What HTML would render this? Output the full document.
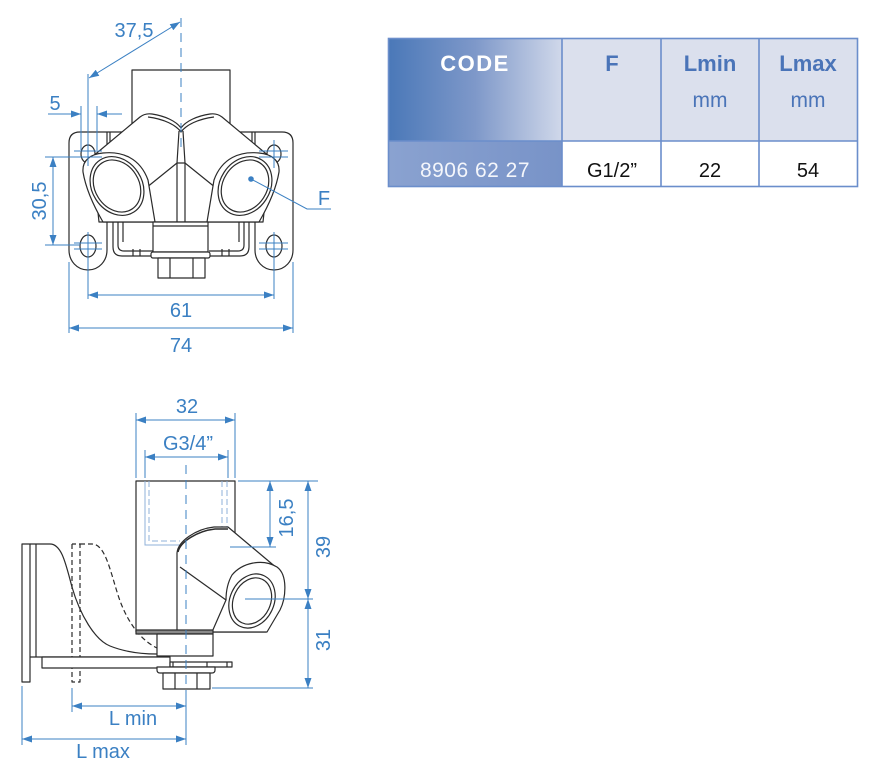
<!DOCTYPE html>
<html><head><meta charset="utf-8"><style>
html,body{margin:0;padding:0;background:#fff;}
svg{display:block;}
</style></head><body>
<svg width="886" height="778" viewBox="0 0 886 778" xmlns="http://www.w3.org/2000/svg">
<defs>
<marker id="ar" viewBox="0 0 10 7" refX="10" refY="3.5" markerWidth="10" markerHeight="7" markerUnits="userSpaceOnUse" orient="auto-start-reverse"><path d="M0,0 L10,3.5 L0,7 Z" fill="#3b80c3"/></marker>
<linearGradient id="gc" x1="0" x2="1" y1="0" y2="0"><stop offset="0" stop-color="#4a78b8"/><stop offset="0.5" stop-color="#7e98c9"/><stop offset="1" stop-color="#d0d8ea"/></linearGradient>
<linearGradient id="gb" x1="0" x2="1" y1="0" y2="0"><stop offset="0" stop-color="#8aa2d0"/><stop offset="1" stop-color="#7893c8"/></linearGradient>
</defs>

<!-- ================= TABLE ================= -->
<rect x="388" y="38" width="174" height="103" fill="url(#gc)"/>
<rect x="562" y="38" width="296" height="103" fill="#dbe0ed"/>
<rect x="388" y="141" width="174" height="46" fill="url(#gb)"/>
<rect x="562" y="141" width="296" height="46" fill="#fff"/>
<g stroke="#6b8ecb" stroke-width="1.6" fill="none">
<rect x="388.5" y="38.5" width="469" height="148"/>
<line x1="388" y1="141" x2="858" y2="141"/>
<line x1="562" y1="38" x2="562" y2="187"/>
<line x1="661" y1="38" x2="661" y2="187"/>
<line x1="759" y1="38" x2="759" y2="187"/>
</g>
<g font-family="Liberation Sans, sans-serif" text-anchor="middle">
<text x="475" y="71" font-size="22" font-weight="bold" fill="#fff" letter-spacing="1.5">CODE</text>
<text x="612" y="71" font-size="22" font-weight="bold" fill="#4a74b8">F</text>
<text x="710" y="71" font-size="22" font-weight="bold" fill="#4a74b8">Lmin</text>
<text x="808" y="71" font-size="22" font-weight="bold" fill="#4a74b8">Lmax</text>
<text x="710" y="107" font-size="21" fill="#4a74b8">mm</text>
<text x="808" y="107" font-size="21" fill="#4a74b8">mm</text>
<text x="475" y="177" font-size="21" fill="#f4f6fb" letter-spacing="0.5">8906 62 27</text>
<text x="612" y="177" font-size="20" fill="#111">G1/2”</text>
<text x="710" y="177" font-size="20" fill="#111">22</text>
<text x="808" y="177" font-size="20" fill="#111">54</text>
</g>

<!-- ================= TOP VIEW ================= -->
<g stroke="#2b2b2b" stroke-width="1.2" fill="none" stroke-linejoin="round">
<!-- pipe -->
<path d="M132,126 V70 H230 V126"/>
<g id="halfL">
 <path d="M125,132 H80 Q69,132 69,143 V250 C69,261 77,270 88,270 C99,270 107,261 107,250 V222"/>
 <path d="M107,132 V152 M110,132 V152"/>
 <ellipse cx="88" cy="154" rx="7" ry="9"/>
 <ellipse cx="88" cy="246" rx="8" ry="11"/>
 <path d="M113,222 V247 Q113,256 122,256 H153 M118,222 V245 Q118,251 124,251 H153 M123,222 V242"/>
 <path d="M133,249 V256 M140,249 V256"/>
</g>
<g transform="translate(362,0) scale(-1,1)">
 <path d="M125,132 H80 Q69,132 69,143 V250 C69,261 77,270 88,270 C99,270 107,261 107,250 V222"/>
 <path d="M107,132 V152 M110,132 V152"/>
 <ellipse cx="88" cy="154" rx="7" ry="9"/>
 <ellipse cx="88" cy="246" rx="8" ry="11"/>
 <path d="M113,222 V247 Q113,256 122,256 H153 M118,222 V245 Q118,251 124,251 H153 M123,222 V242"/>
 <path d="M133,249 V256 M140,249 V256"/>
</g>
<!-- body -->
<path d="M92,157 L140,117 Q145,113 152,114 C165,116 176,121 181,128 C186,121 197,116 210,114 Q217,113 222,117 L270,157 L263,222 L99,222 Z" fill="#fff"/>
<path d="M148,117 C164,119 176,125 181,132 C186,125 198,119 214,117"/>
<path d="M179,131 L177,163 V222 M183,131 L185,163 V222 M177,163 H185"/>
<path d="M146,188 L177,163 M185,163 L216,188"/>
<!-- faces -->
<g>
 <path d="M103,153 C122,151 140,158 148,180 L155,222 L103,222 C96,210 86,190 83,172 C82,160 91,154 103,153 Z" fill="#fff"/>
 <ellipse cx="117" cy="186" rx="25" ry="31" transform="rotate(-33 117 186)"/>
 <ellipse cx="117" cy="186" rx="22" ry="27.5" transform="rotate(-33 117 186)"/>
</g>
<g transform="translate(362,0) scale(-1,1)">
 <path d="M103,153 C122,151 140,158 148,180 L155,222 L103,222 C96,210 86,190 83,172 C82,160 91,154 103,153 Z" fill="#fff"/>
 <ellipse cx="117" cy="186" rx="25" ry="31" transform="rotate(-33 117 186)"/>
 <ellipse cx="117" cy="186" rx="22" ry="27.5" transform="rotate(-33 117 186)"/>
</g>
<!-- nut -->
<rect x="153" y="222" width="55" height="30" fill="#fff"/>
<path d="M153,226 H208"/>
<rect x="151" y="252" width="59" height="6" rx="2" fill="#fff"/>
<rect x="158" y="258" width="47" height="20" fill="#fff"/>
<path d="M170,258 V278 M193,258 V278"/>
</g>

<!-- top view dims -->
<g stroke="#3b80c3" stroke-width="1" fill="none">
<path d="M181,18 V150" stroke-dasharray="9,6"/>
<line x1="89" y1="78" x2="180" y2="22" marker-start="url(#ar)" marker-end="url(#ar)"/>
<path d="M88,74 V166"/>
<path d="M81,106 V150 M97,106 V150"/>
<line x1="48" y1="114" x2="81" y2="114" marker-end="url(#ar)"/>
<line x1="122" y1="114" x2="97" y2="114" marker-end="url(#ar)"/>
<!-- hole crosshairs -->
<path d="M74,151 H102 M74,157 H102 M74,243 H102 M74,249 H102 M88,232 V299"/>
<path d="M259,151 H288 M259,157 H288 M259,243 H288 M259,249 H288 M274,140 V168 M274,232 V299"/>
<!-- 30,5 -->
<path d="M45,157 H80 M45,245 H80"/>
<line x1="53" y1="157" x2="53" y2="245" marker-start="url(#ar)" marker-end="url(#ar)"/>
<!-- 61, 74 -->
<line x1="88" y1="295" x2="274" y2="295" marker-start="url(#ar)" marker-end="url(#ar)"/>
<path d="M69,262 V333 M293,262 V333"/>
<line x1="69" y1="328" x2="293" y2="328" marker-start="url(#ar)" marker-end="url(#ar)"/>
<!-- F leader -->
<path d="M251,179 L307,209 H331"/>
</g>
<circle cx="251" cy="179" r="2.8" fill="#3b80c3"/>
<g font-family="Liberation Sans, sans-serif" font-size="20" fill="#3b80c3" text-anchor="middle">
<text x="134" y="37">37,5</text>
<text x="55" y="110">5</text>
<text transform="translate(46,201) rotate(-90)">30,5</text>
<text x="181" y="317">61</text>
<text x="181" y="352">74</text>
<text x="324" y="205">F</text>
</g>

<!-- ================= SIDE VIEW ================= -->
<g stroke="#2b2b2b" stroke-width="1.2" fill="none" stroke-linejoin="round">
<!-- bracket solid -->
<rect x="22" y="544" width="8" height="138" fill="#fff"/>
<path d="M30,544 H50 C62,544 66,565 72,587 C80,615 95,640 110,646 C125,652 140,654 157,654"/>
<path d="M36,544 V657"/>
<!-- bracket dashed -->
<g stroke-dasharray="5,3">
<path d="M72,544 V682 H80 V544 H72"/>
<path d="M80,544 H92 C105,544 110,570 118,595 C126,620 140,640 157,648"/>
</g>
<!-- base plate -->
<path d="M30,657 H170"/>
<rect x="42" y="657" width="128" height="11" fill="#fff"/>
<!-- pipe -->
<path d="M136,632 V481 H235 V540"/>
</g>
<!-- thread hidden lines -->
<g stroke="#8fb0da" stroke-width="1" fill="none">
<path d="M145,481 V545 H180"/>
<path d="M149,481 V541 H180" stroke-dasharray="6,3"/>
<path d="M222,481 V530 M227,481 V528" stroke-dasharray="6,3"/>
</g>
<g stroke="#2b2b2b" stroke-width="1.2" fill="none" stroke-linejoin="round">
<!-- elbow -->
<path d="M177,632 V553 C178,541 196,529 214,527 H228 L278,569 L266,632 Z" fill="#fff"/>
<path d="M178,552 C180,542 197,531 215,529 H228" stroke-width="1.6"/>
<path d="M180,567 L226,600"/>
<path d="M212,632 L226,600 C226,590 228,582 232,575 C242,563 262,558 277,567 C288,575 286,598 280,610 L267,632 Z" fill="#fff"/>
<ellipse cx="252" cy="601" rx="22" ry="28" transform="rotate(25 252 601)"/>
<ellipse cx="252" cy="601" rx="18.5" ry="24" transform="rotate(25 252 601)"/>
<!-- connector & nut -->
<rect x="136" y="630" width="77" height="4" fill="#8a8a8a"/>
<rect x="157" y="634" width="56" height="22" fill="#fff"/>
<rect x="170" y="662" width="62" height="5" fill="#fff"/>
<path d="M173,662 V667 M207,662 V667 M227,662 V667"/>
<path d="M157,667 H215 V670 Q215,673 212,673 H160 Q157,673 157,670 Z" fill="#fff"/>
<rect x="163" y="673" width="47" height="16" fill="#fff"/>
<path d="M175,673 V689 M197,673 V689"/>
</g>

<!-- side view dims -->
<g stroke="#3b80c3" stroke-width="1" fill="none">
<path d="M186,465 V690" stroke-dasharray="9,6"/>
<path d="M186,690 V745"/>
<path d="M136,413 V478 M235,413 V478 M145,450 V478 M228,450 V478"/>
<line x1="136" y1="420" x2="235" y2="420" marker-start="url(#ar)" marker-end="url(#ar)"/>
<line x1="145" y1="457" x2="228" y2="457" marker-start="url(#ar)" marker-end="url(#ar)"/>
<path d="M238,481 H318 M230,547 H276 M245,599 H313 M212,688 H313"/>
<line x1="270" y1="481" x2="270" y2="547" marker-start="url(#ar)" marker-end="url(#ar)"/>
<line x1="308" y1="481" x2="308" y2="599" marker-start="url(#ar)" marker-end="url(#ar)"/>
<line x1="308" y1="599" x2="308" y2="688" marker-start="url(#ar)" marker-end="url(#ar)"/>
<path d="M22,686 V745 M72,688 V712"/>
<line x1="72" y1="706" x2="186" y2="706" marker-start="url(#ar)" marker-end="url(#ar)"/>
<line x1="22" y1="739" x2="186" y2="739" marker-start="url(#ar)" marker-end="url(#ar)"/>
</g>
<g font-family="Liberation Sans, sans-serif" font-size="20" fill="#3b80c3" text-anchor="middle">
<text x="187" y="413">32</text>
<text x="188" y="450">G3/4”</text>
<text transform="translate(293,518) rotate(-90)">16,5</text>
<text transform="translate(330,547) rotate(-90)">39</text>
<text transform="translate(330,640) rotate(-90)">31</text>
<text x="133" y="725">L min</text>
<text x="103" y="758">L max</text>
</g>
</svg>
</body></html>
